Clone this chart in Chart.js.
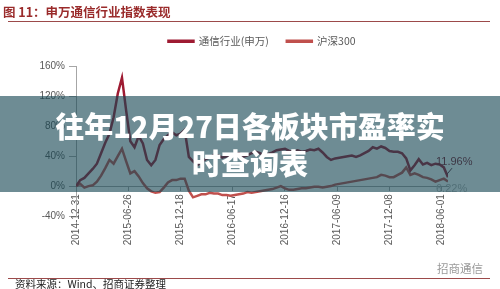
<!DOCTYPE html>
<html>
<head>
<meta charset="utf-8">
<script src="https://cdn.jsdelivr.net/npm/chart.js@4.4.0/dist/chart.umd.min.js"></script>
<style>
  html, body { margin: 0; padding: 0; }
  body {
    width: 500px; height: 289px; position: relative; overflow: hidden; background: #fff;
    font-family: 'Liberation Sans', 'Noto Sans CJK SC', sans-serif;
  }
  #chart { position: absolute; left: 0; top: 0; }
  .title {
    position: absolute; left: 3px; top: 4px; font-size: 12.5px; line-height: 16px;
    font-weight: bold; color: #9a2b2b; font-family: 'Noto Sans CJK SC', sans-serif;
  }
  .rule { position: absolute; left: 8px; width: 482px; height: 1px; background: #9c4a4a; }
  .source {
    position: absolute; left: 15px; top: 277px; font-size: 10.5px; line-height: 14px;
    color: #222; font-family: 'Noto Sans CJK SC', sans-serif;
  }
  .logo {
    position: absolute; left: 437px; top: 261px; font-size: 11.5px; line-height: 14px;
    color: #9a9a9a; font-family: 'Noto Sans CJK SC', sans-serif;
  }
  .banner {
    position: absolute; left: 0; top: 96px; width: 500px; height: 96px;
    background: rgba(21, 69, 82, 0.62); z-index: 2;
    display: flex; flex-direction: column; align-items: center; justify-content: center;
    color: #fff; font-family: 'Noto Sans CJK SC', sans-serif; font-weight: 900;
    font-size: 29px; line-height: 37px; text-align: center;
  }
</style>
</head>
<body>
<canvas id="chart" width="500" height="289"></canvas>
<div class="title">图 11：申万通信行业指数表现</div>
<div class="rule" style="top:21px"></div>
<div class="rule" style="top:278px"></div>
<div class="source">资料来源：Wind、招商证券整理</div>
<div class="logo">招商通信</div>
<div class="banner"><div>往年12月27日各板块市盈率实</div><div>时查询表</div></div>
<script>
// weekly data, one value every 2 weeks, cumulative change in %
const weekStep = 2;
const tickWeeks = [0, 25, 50, 75, 100, 125, 150, 175];
const tickLabels = ['2014-12-31', '2015-06-26', '2015-12-18', '2016-06-17',
                    '2016-12-16', '2017-06-09', '2017-12-08', '2018-06-01'];
const seriesNames = ['通信行业(申万)', '沪深300'];

const telecomVals = [
    0, 8, 11, 17, 23, 30, 44, 58, 70, 92,
    124, 145, 101, 60, 52, 67, 57, 35, 28, 35,
    55, 63, 68, 72, 68, 70, 75, 39, 33, 28,
    32, 36, 38, 42, 41, 38, 40, 41, 43, 44,
    39, 41, 44, 46, 44, 41, 43, 45, 48, 49,
    50, 47, 46, 48, 46, 47, 49, 48, 50, 45,
    39, 35, 37, 38, 39, 40, 41, 39, 41, 44,
    47, 52, 50, 53, 51, 47, 46, 46, 44, 37,
    21, 28, 36, 29, 31, 28, 30, 29, 25, 11.96
];
const hs300Vals = [
    0, 3, -2, 0, 1, 6, 14, 24, 35, 30,
    40, 50, 33, 17, 20, 13, 4, -3, -7, -9,
    -8, -2, 5, 8, 8, 10, 10, -6, -15, -13,
    -11, -11, -9, -10, -10, -12, -12, -13, -12, -11,
    -10, -8, -9, -8, -7, -6, -5, -4, -2, 0,
    -3, -5, -5, -4, -3, -3, -2, -1, -1, -2,
    -1, 0, 2, 3, 4, 5, 6, 7, 8, 9,
    10, 11, 12, 15, 14, 12, 12, 15, 18, 25,
    15, 17, 15, 12, 11, 9, 6, 8, 10, 6.22
];

const telecomColor = '#9e1b32';
const hs300Color = '#c0504d';

const toPoints = vals => vals.map((v, i) => ({ x: i * weekStep, y: v }));

// labels at the end of each line (11.96% / 6.22%)
const endLabels = {
    id: 'endLabels',
    afterDatasetsDraw(chart) {
        const { ctx, scales: { x, y } } = chart;
        const lastX = (telecomVals.length - 1) * weekStep;
        const px = x.getPixelForValue(lastX);
        const p1 = y.getPixelForValue(telecomVals[telecomVals.length - 1]);
        const p2 = y.getPixelForValue(hs300Vals[hs300Vals.length - 1]);
        ctx.save();
        ctx.font = '11px "Liberation Sans"';
        ctx.textBaseline = 'middle';
        ctx.fillStyle = '#7a1a2a';
        ctx.fillText(telecomVals[telecomVals.length - 1].toFixed(2) + '%', px - 12, p1 - 15);
        ctx.strokeStyle = '#5a2a3a';
        ctx.lineWidth = 1;
        ctx.beginPath();
        ctx.moveTo(px + 4, p1 - 9);
        ctx.lineTo(px - 1, p1 - 3);
        ctx.stroke();
        ctx.fillStyle = '#b4b4b4';
        ctx.fillText(hs300Vals[hs300Vals.length - 1].toFixed(2) + '%', px - 12, p2 + 8);
        ctx.restore();
    }
};

new Chart(document.getElementById('chart').getContext('2d'), {
    type: 'line',
    data: {
        datasets: [{
            label: seriesNames[0],
            data: toPoints(telecomVals),
            borderColor: telecomColor,
            backgroundColor: telecomColor,
            borderWidth: 2.5,
            pointRadius: 0,
            tension: 0
        }, {
            label: seriesNames[1],
            data: toPoints(hs300Vals),
            borderColor: hs300Color,
            backgroundColor: hs300Color,
            borderWidth: 2.5,
            pointRadius: 0,
            tension: 0
        }]
    },
    options: {
        responsive: false,
        animation: false,
        devicePixelRatio: 1,
        // the x axis sits on the 0% line, so its labels need room below the plot
        layout: { padding: { top: 18, right: 52, bottom: 73, left: 0 } },
        plugins: {
            legend: {
                position: 'top',
                fullSize: false,
                labels: {
                    boxWidth: 25,
                    boxHeight: 1,
                    padding: 18,
                    color: '#595959',
                    font: { size: 10.5, family: "'Noto Sans CJK SC', sans-serif" }
                }
            },
            // empty title used only as a spacer between legend and plot
            title: { display: true, text: '', weight: 100, padding: 0, font: { size: 10, lineHeight: 1 } },
            tooltip: { enabled: false }
        },
        scales: {
            x: {
                type: 'linear',
                position: { y: 0 },
                min: 0,
                max: 178,
                afterBuildTicks: s => { s.ticks = tickWeeks.map(v => ({ value: v })); },
                ticks: {
                    autoSkip: false,
                    minRotation: 90,
                    maxRotation: 90,
                    padding: 4,
                    color: '#595959',
                    font: { size: 10 },
                    callback: v => tickLabels[tickWeeks.indexOf(v)]
                },
                grid: { drawOnChartArea: false, tickLength: 4, color: '#a6a6a6' },
                border: { color: '#a6a6a6' }
            },
            y: {
                min: -40,
                max: 160,
                afterFit: s => { s.width = 76; },
                ticks: {
                    stepSize: 40,
                    padding: 4,
                    color: '#595959',
                    font: { size: 10 },
                    callback: v => v + '%'
                },
                grid: { drawOnChartArea: false, tickLength: 7, color: '#a6a6a6' },
                border: { color: '#a6a6a6' }
            }
        }
    },
    plugins: [endLabels]
});
</script>
</body>
</html>
